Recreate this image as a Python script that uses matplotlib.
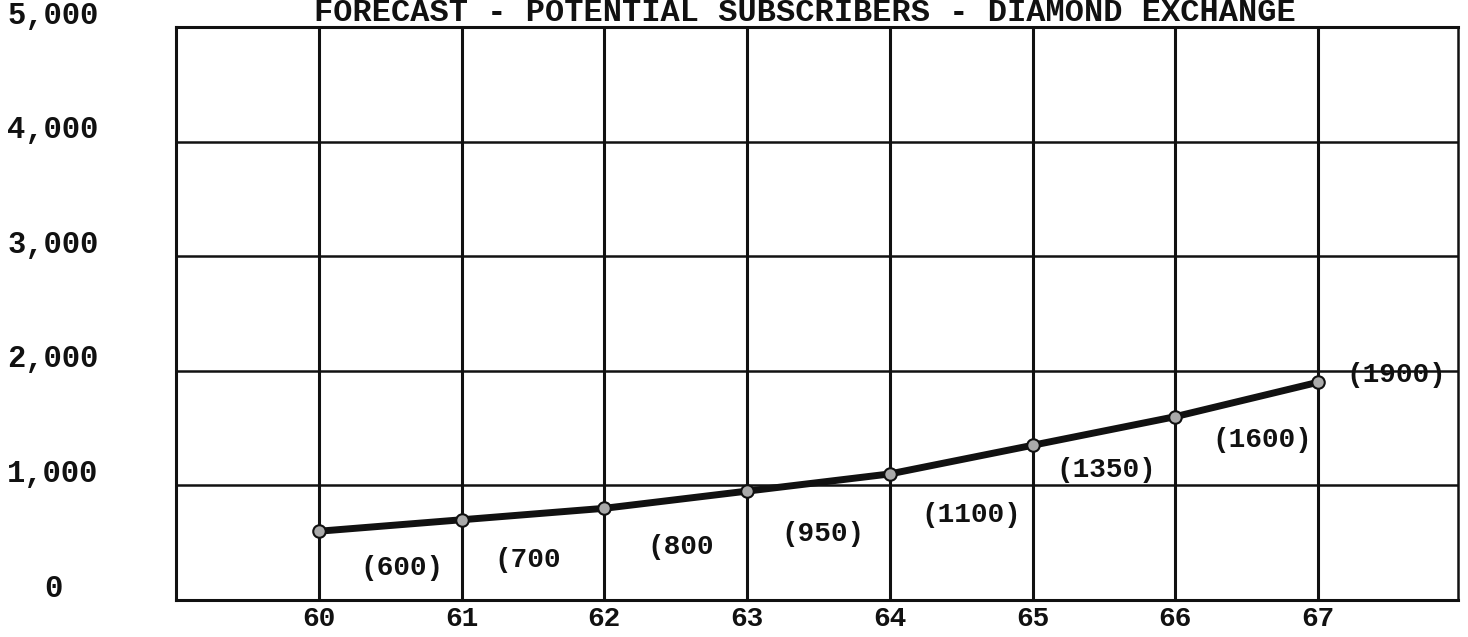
#!/usr/bin/python3

#
# plot.py: typewritten forecast chart of potential subscribers for the
# Diamond exchange, 1960 - 1967.
#
# Writes out.png (1468x637) to the current folder.
#

import matplotlib
matplotlib.use('Agg')
import matplotlib.pyplot as plt
import matplotlib.transforms as mtransforms

# data
YEARS = [60, 61, 62, 63, 64, 65, 66, 67]
SUBSCRIBERS = [600, 700, 800, 950, 1100, 1350, 1600, 1900]
POINT_LABELS = ['(600)', '(700', '(800', '(950)', '(1100)', '(1350)', '(1600)', '(1900)']
Y_TICKS = [0, 1000, 2000, 3000, 4000, 5000]
Y_TICK_LABELS = ['0', '1,000', '2,000', '3,000', '4,000', '5,000']
TITLE = 'FORECAST - POTENTIAL SUBSCRIBERS - DIAMOND EXCHANGE'

# where each value label sits, relative to its point (pixels, y up)
LABEL_OFFSETS = [(83, -37), (66, -40), (76, -39), (76, -43),
                 (81, -41), (74, -25), (87, -23), (78, 7)]

FONT = ['Liberation Mono', 'DejaVu Sans Mono']
INK = '#111111'

fig = plt.figure(figsize=(14.68, 6.37), dpi=100)
ax = fig.add_axes([0.1199, 0.0581, 0.8733, 0.8995])

ax.set_xlim(59.0, 67.98)
ax.set_ylim(0, 5000)

# ruled grid, drawn like ink lines
for yr in YEARS:
  ax.axvline(yr, color=INK, lw=2.2, zorder=1)
for v in Y_TICKS[1:-1]:
  ax.axhline(v, color=INK, lw=1.8, zorder=1)

for side in ['left', 'bottom', 'top']:
  ax.spines[side].set_linewidth(2.2)
  ax.spines[side].set_color(INK)
ax.spines['right'].set_linewidth(1.8)
ax.spines['right'].set_color(INK)

# the forecast line
ax.plot(YEARS, SUBSCRIBERS, color=INK, lw=5,
  marker='o', ms=9, mfc='#aaaaaa', mec=INK, mew=1.5, zorder=3)

# value labels next to each point
for x, y, lab, off in zip(YEARS, SUBSCRIBERS, POINT_LABELS, LABEL_OFFSETS):
  ax.annotate(lab, (x, y), xytext=off, textcoords='offset pixels',
    ha='center', va='center', fontsize=20, fontweight='bold',
    family=FONT, color=INK, zorder=4)

# x ticks: the years
ax.set_xticks(YEARS)
ax.set_xticklabels([str(y) for y in YEARS], fontsize=20,
  fontweight='bold', family=FONT, color=INK)
ax.tick_params(axis='x', length=0, pad=4)

# y labels sit a little above their rule, centred in the margin
ax.set_yticks([])
trans = mtransforms.blended_transform_factory(fig.transFigure, ax.transData)
for v, lab in zip(Y_TICKS, Y_TICK_LABELS):
  ax.text(0.0361, v + 30, lab, transform=trans, ha='center',
    va='baseline', fontsize=22, fontweight='bold', family=FONT, color=INK)

# title, typed right at the top edge of the sheet
fig.text(0.5484, 1 - 21 / 637, TITLE, ha='center', va='baseline',
  fontsize=23, fontweight='bold', family=FONT, color=INK)

plt.savefig('out.png', dpi=100)
